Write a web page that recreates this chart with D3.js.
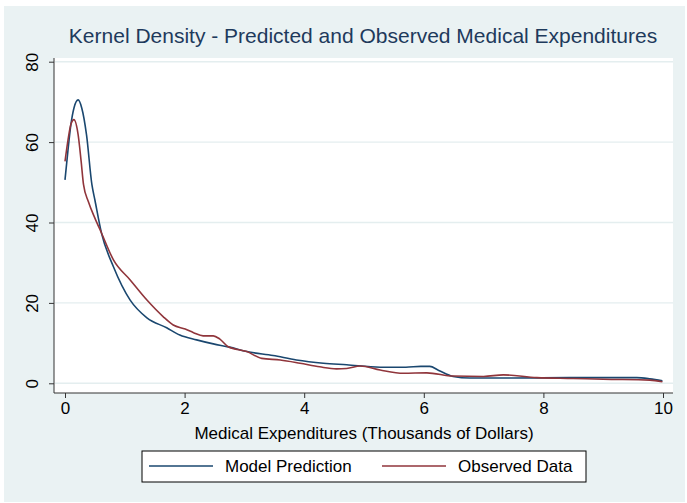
<!DOCTYPE html>
<html>
<head>
<meta charset="utf-8">
<script src="https://cdn.jsdelivr.net/npm/d3@7"></script>
<style>
  body { margin: 0; background: #fff; }
  svg { display: block; font-family: "Liberation Sans", Arial, sans-serif; }
</style>
</head>
<body>
<svg id="chart" width="687" height="503"></svg>
<script>
// Data
const modelX = [0, 0.05, 0.1, 0.15, 0.22, 0.28, 0.36, 0.45, 0.5, 0.61, 0.81, 1.09, 1.37, 1.7, 1.92, 2.2, 2.48, 2.75, 3.04, 3.48, 3.87, 4.32, 4.71, 5.27, 5.7, 5.95, 6.1, 6.25, 6.49, 6.77, 7.5, 8.44, 9.56, 9.78, 9.99];
const modelY = [50.6, 58, 64.5, 68.5, 70.5, 68.5, 61.8, 49.4, 45.6, 37.4, 29, 20.7, 16.3, 13.8, 12.0, 10.8, 9.8, 9.0, 7.9, 6.9, 5.8, 5.0, 4.6, 4.0, 4.0, 4.2, 4.2, 3.2, 1.7, 1.3, 1.3, 1.4, 1.4, 1.1, 0.6];

const obsX = [0, 0.05, 0.1, 0.15, 0.22, 0.27, 0.31, 0.39, 0.5, 0.61, 0.81, 1.09, 1.37, 1.64, 1.81, 2.01, 2.15, 2.31, 2.48, 2.59, 2.73, 3.04, 3.29, 3.6, 3.93, 4.26, 4.54, 4.71, 4.94, 5.27, 5.66, 6.05, 6.49, 7.0, 7.33, 7.89, 8.5, 9.0, 9.78, 9.99];
const obsY = [55.2, 60.5, 64.5, 65.6, 61.8, 55.2, 49.4, 45.2, 41.1, 37.4, 30.7, 25.7, 20.7, 16.6, 14.5, 13.5, 12.6, 11.8, 11.8, 11.0, 9.1, 7.9, 6.2, 5.8, 5.0, 4.1, 3.6, 3.7, 4.3, 3.3, 2.5, 2.6, 1.8, 1.7, 2.1, 1.4, 1.2, 1.0, 0.8, 0.4];

const xTicks = [0, 2, 4, 6, 8, 10];
const yTicks = [0, 20, 40, 60, 80];

const seriesNames = ['Model Prediction', 'Observed Data'];
const seriesColors = ['#1a476f', '#90353b'];

const svg = d3.select('#chart');

// Graph region background
svg.append('rect')
  .attr('x', 4).attr('y', 6)
  .attr('width', 681).attr('height', 496)
  .attr('fill', '#eaf2f3');

// Plot region
const plot = { left: 54, top: 58, right: 673, bottom: 393 };
svg.append('rect')
  .attr('x', plot.left).attr('y', plot.top)
  .attr('width', plot.right - plot.left).attr('height', plot.bottom - plot.top)
  .attr('fill', '#fff');

const x = d3.scaleLinear().domain([0, 10]).range([65, 663]);
const y = d3.scaleLinear().domain([0, 80]).range([383.3, 61.7]);

// Gridlines
svg.append('g')
  .selectAll('line')
  .data(yTicks)
  .join('line')
  .attr('x1', plot.left + 1).attr('x2', plot.right)
  .attr('y1', (d) => y(d)).attr('y2', (d) => y(d))
  .attr('stroke', '#e4eeef')
  .attr('stroke-width', 1.4);

// Axes
const xAxis = svg.append('g')
  .attr('transform', `translate(0,${plot.bottom})`)
  .call(d3.axisBottom(x).tickValues(xTicks).tickSize(5).tickPadding(4).tickFormat(d3.format('d')));
xAxis.select('.domain').attr('d', `M${plot.left},0H${plot.right}`).attr('stroke', '#333');
xAxis.selectAll('.tick line').attr('stroke', '#333');
xAxis.selectAll('.tick text')
  .attr('font-size', 17).attr('fill', '#000')
  .attr('font-family', '"Liberation Sans", Arial, sans-serif');

const yAxis = svg.append('g')
  .attr('transform', `translate(${plot.left},0)`)
  .call(d3.axisLeft(y).tickValues(yTicks).tickSize(5).tickFormat(d3.format('d')));
yAxis.select('.domain').attr('d', `M0,${plot.top}V${plot.bottom}`).attr('stroke', '#333');
yAxis.selectAll('.tick line').attr('stroke', '#333');
yAxis.selectAll('.tick text')
  .attr('x', null).attr('dy', null)
  .attr('transform', 'translate(-16,0) rotate(-90)')
  .attr('text-anchor', 'middle')
  .attr('font-size', 17).attr('fill', '#000')
  .attr('font-family', '"Liberation Sans", Arial, sans-serif');

// Lines
const line = d3.line()
  .x((d) => x(d[0]))
  .y((d) => y(d[1]))
  .curve(d3.curveMonotoneX);

const series = [
  d3.zip(modelX, modelY),
  d3.zip(obsX, obsY),
];

svg.append('g')
  .selectAll('path')
  .data(series)
  .join('path')
  .attr('d', line)
  .attr('fill', 'none')
  .attr('stroke', (d, i) => seriesColors[i])
  .attr('stroke-width', 1.6)
  .attr('stroke-linejoin', 'round');

// Title
svg.append('text')
  .attr('x', 363).attr('y', 43)
  .attr('text-anchor', 'middle')
  .attr('font-size', 21)
  .attr('fill', '#1e3a5c')
  .text('Kernel Density - Predicted and Observed Medical Expenditures');

// X axis title
svg.append('text')
  .attr('x', 364).attr('y', 439)
  .attr('text-anchor', 'middle')
  .attr('font-size', 17)
  .attr('fill', '#000')
  .text('Medical Expenditures (Thousands of Dollars)');

// Legend
const legend = svg.append('g');
legend.append('rect')
  .attr('x', 142).attr('y', 451)
  .attr('width', 444).attr('height', 31)
  .attr('fill', '#fff')
  .attr('stroke', '#000');

const legendX = [149, 382];
seriesNames.forEach((name, i) => {
  legend.append('line')
    .attr('x1', legendX[i]).attr('x2', legendX[i] + 64)
    .attr('y1', 466).attr('y2', 466)
    .attr('stroke', seriesColors[i])
    .attr('stroke-width', 1.6);
  legend.append('text')
    .attr('x', legendX[i] + 76).attr('y', 472)
    .attr('font-size', 17)
    .attr('fill', '#000')
    .text(name);
});
</script>
</body>
</html>
